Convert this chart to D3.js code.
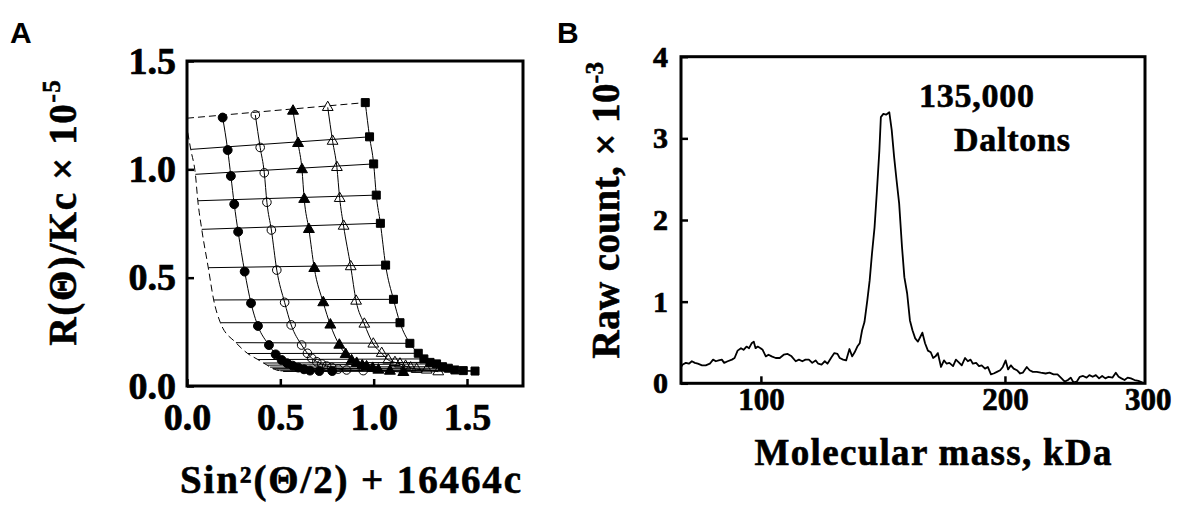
<!DOCTYPE html>
<html>
<head>
<meta charset="utf-8">
<script src="https://cdnjs.cloudflare.com/ajax/libs/d3/7.8.5/d3.min.js"></script>
<style>
  body { margin: 0; background: #fff; }
  svg { display: block; }
</style>
</head>
<body>
<svg id="fig" width="1183" height="517"></svg>
<script>
// ---------- panel A (Zimm plot) ----------
const zimmTicksX = [0, 0.5, 1.0, 1.5];
const zimmTicksY = [0, 0.5, 1.0, 1.5];

// left end of each angle line (c -> 0); row 0 is the theta -> 0 line
const zeroConcX = [0.000, 0.020, 0.045, 0.058, 0.079, 0.114, 0.143, 0.179, 0.262, 0.325, 0.380, 0.410, 0.430, 0.445, 0.460, 0.480, 0.500, 0.515];
const zeroConcY = [1.236, 1.092, 0.977, 0.855, 0.723, 0.546, 0.397, 0.292, 0.200, 0.150, 0.122, 0.106, 0.096, 0.087, 0.080, 0.074, 0.070, 0.067];
const zeroConcTop = [0.004, 1.17];

const filledCircleX = [0.191, 0.218, 0.235, 0.253, 0.274, 0.309, 0.343, 0.380, 0.439, 0.475, 0.507, 0.537, 0.566, 0.596, 0.627, 0.659, 0.709, 0.778];
const filledCircleY = [1.239, 1.089, 0.969, 0.839, 0.712, 0.528, 0.382, 0.277, 0.189, 0.146, 0.120, 0.105, 0.094, 0.085, 0.077, 0.071, 0.069, 0.069];
const openCircleX = [0.366, 0.392, 0.414, 0.428, 0.452, 0.481, 0.523, 0.558, 0.614, 0.645, 0.668, 0.695, 0.721, 0.748, 0.775, 0.810, 0.855, 0.944];
const openCircleY = [1.251, 1.101, 0.984, 0.848, 0.720, 0.535, 0.386, 0.282, 0.189, 0.151, 0.128, 0.112, 0.102, 0.092, 0.086, 0.078, 0.074, 0.071];
const filledTriX = [0.568, 0.595, 0.616, 0.628, 0.653, 0.682, 0.730, 0.768, 0.816, 0.850, 0.882, 0.909, 0.939, 0.962, 0.995, 1.025, 1.087, 1.159];
const filledTriY = [1.269, 1.120, 0.999, 0.862, 0.723, 0.543, 0.385, 0.282, 0.189, 0.146, 0.117, 0.105, 0.094, 0.089, 0.082, 0.074, 0.069, 0.063];
const openTriX = [0.754, 0.780, 0.803, 0.818, 0.839, 0.877, 0.906, 0.950, 0.998, 1.043, 1.078, 1.114, 1.141, 1.171, 1.198, 1.230, 1.284, 1.346];
const openTriY = [1.286, 1.130, 1.009, 0.866, 0.738, 0.551, 0.392, 0.286, 0.194, 0.151, 0.120, 0.109, 0.102, 0.092, 0.084, 0.077, 0.074, 0.066];
const squareX = [0.955, 0.978, 1.000, 1.014, 1.036, 1.064, 1.106, 1.141, 1.194, 1.239, 1.269, 1.302, 1.337, 1.369, 1.400, 1.435, 1.480, 1.543];
const squareY = [1.308, 1.150, 1.025, 0.881, 0.751, 0.558, 0.400, 0.292, 0.197, 0.151, 0.125, 0.109, 0.102, 0.089, 0.082, 0.074, 0.071, 0.069];

// ---------- panel B (mass spectrum) ----------
const massTicks = [100, 200, 300];
const countTicks = [0, 1, 2, 3, 4];

const massKDa = [
  79.7, 80.1, 80.8, 81.5, 82.2, 82.9, 83.6, 84.6, 85.5, 86.5,
  87.3, 88.0, 88.7, 89.5, 90.1, 91.0, 92.1, 92.8, 93.6, 94.5,
  95.2, 96.0, 96.7, 97.4, 98.0, 98.5, 99.1, 99.9, 100.5, 101.4,
  102.2, 103.1, 104.3, 105.5, 106.7, 107.9, 109.1, 110.4, 111.4, 112.5,
  113.5, 114.6, 115.7, 116.8, 117.7, 118.8, 119.9, 120.8, 122.2, 123.2,
  124.3, 125.1, 126.3, 127.4, 128.6, 129.6, 130.5, 131.5, 132.4, 133.3,
  134.2, 135.3, 136.2, 137.1, 138.1, 139.0, 140.0, 140.6, 141.6, 142.7,
  144.0, 145.0, 146.0, 147.0, 148.1, 149.3, 150.3, 151.5, 152.7, 153.8,
  155.0, 156.2, 157.3, 158.2, 159.4, 160.7, 162.0, 163.1, 164.2, 165.3,
  166.8, 168.2, 169.5, 170.8, 172.6, 174.0, 175.3, 176.9, 178.6, 180.0,
  181.4, 182.6, 184.3, 185.8, 187.2, 189.0, 190.5, 192.2, 193.7, 195.5,
  197.3, 198.8, 200.4, 201.8, 203.4, 205.0, 206.9, 208.8, 210.4, 212.8,
  214.5, 216.5, 218.9, 221.4, 224.5, 227.0, 229.6, 232.2, 234.9, 237.0,
  239.2, 241.1, 243.0, 245.2, 247.4, 249.7, 252.2, 254.2, 256.6, 258.9,
  261.3, 263.6, 266.0, 268.4, 271.5, 274.0, 276.2, 278.4, 280.9, 283.4,
  286.0, 289.0, 292.2, 295.6, 297.5
];
const rawCount = [
  0.20, 0.23, 0.25, 0.24, 0.27, 0.25, 0.24, 0.22, 0.22, 0.24,
  0.29, 0.27, 0.28, 0.29, 0.25, 0.27, 0.29, 0.31, 0.40, 0.43,
  0.41, 0.45, 0.43, 0.49, 0.51, 0.43, 0.45, 0.43, 0.41, 0.33,
  0.35, 0.33, 0.31, 0.31, 0.35, 0.36, 0.33, 0.27, 0.29, 0.27,
  0.29, 0.29, 0.25, 0.28, 0.24, 0.23, 0.27, 0.24, 0.32, 0.37,
  0.36, 0.31, 0.29, 0.28, 0.42, 0.33, 0.38, 0.45, 0.49, 0.65,
  0.75, 1.02, 1.26, 1.59, 1.91, 2.34, 2.85, 3.26, 3.30, 3.29,
  3.32, 3.10, 2.77, 2.49, 2.20, 1.67, 1.30, 1.10, 0.77, 0.65,
  0.55, 0.51, 0.57, 0.62, 0.49, 0.40, 0.38, 0.31, 0.33, 0.37,
  0.20, 0.28, 0.24, 0.25, 0.21, 0.29, 0.26, 0.22, 0.31, 0.27,
  0.29, 0.24, 0.25, 0.21, 0.22, 0.18, 0.20, 0.11, 0.12, 0.14,
  0.16, 0.20, 0.28, 0.17, 0.22, 0.18, 0.16, 0.12, 0.13, 0.20,
  0.16, 0.14, 0.14, 0.13, 0.12, 0.13, 0.11, 0.11, 0.06, 0.02,
  0.04, 0.07, 0.01, 0.02, 0.08, 0.09, 0.07, 0.10, 0.08, 0.10,
  0.06, 0.09, 0.06, 0.08, 0.07, 0.13, 0.08, 0.06, 0.04, 0.07,
  0.06, 0.04, 0.03, 0.01, 0.00
];

const SERIF = "'Liberation Serif', 'Times New Roman', serif";
const SANS = "'Liberation Sans', Arial, sans-serif";

const svg = d3.select("#fig");
svg.append("rect").attr("width", 1183).attr("height", 517).attr("fill", "#fff");

// heavy bold serif like the scanned figure
function heavy(sel, w) {
  return sel.attr("font-family", SERIF).attr("font-weight", "bold")
    .attr("fill", "#000").attr("stroke", "#000").attr("stroke-width", w);
}

function styleAxis(g, size) {
  g.attr("font-family", SERIF).attr("font-size", size).attr("font-weight", "bold");
  g.select(".domain").remove();
  g.selectAll(".tick line").attr("stroke", "#000").attr("stroke-width", 2.5);
  heavy(g.selectAll(".tick text"), 0.7);
}

// ======== A ========
const ax = d3.scaleLinear().domain([0, 1.8]).range([187, 523]);
const ay = d3.scaleLinear().domain([0, 1.5]).range([386, 61]);
const gA = svg.append("g");

// angle lines
for (let r = 0; r < zeroConcX.length; r++) {
  gA.append("line")
    .attr("x1", ax(zeroConcX[r])).attr("y1", ay(zeroConcY[r]))
    .attr("x2", ax(squareX[r])).attr("y2", ay(squareY[r]))
    .attr("stroke", "#000").attr("stroke-width", 1)
    .attr("stroke-dasharray", r === 0 ? "7,4" : null);
}

// c = 0 extrapolation
const dashPts = [zeroConcTop].concat(zeroConcX.slice(1).map((x, i) => [x, zeroConcY[i + 1]]));
gA.append("path")
  .attr("d", d3.line().x(d => ax(d[0])).y(d => ay(d[1])).curve(d3.curveMonotoneX)(dashPts))
  .attr("fill", "none").attr("stroke", "#000").attr("stroke-width", 1)
  .attr("stroke-dasharray", "7,4");

const series = [
  {xs: filledCircleX, ys: filledCircleY, type: d3.symbolCircle, size: 62, filled: true},
  {xs: openCircleX, ys: openCircleY, type: d3.symbolCircle, size: 58, filled: false},
  {xs: filledTriX, ys: filledTriY, type: d3.symbolTriangle, size: 52, filled: true},
  {xs: openTriX, ys: openTriY, type: d3.symbolTriangle, size: 50, filled: false},
  {xs: squareX, ys: squareY, type: d3.symbolSquare, size: 64, filled: true}
];

const curveLine = d3.line().x(d => ax(d[0])).y(d => ay(d[1])).curve(d3.curveMonotoneX);
series.forEach(s => {
  const pts = s.xs.map((x, i) => [x, s.ys[i]]);
  gA.append("path").attr("d", curveLine(pts))
    .attr("fill", "none").attr("stroke", "#000").attr("stroke-width", 1);
  gA.selectAll(null).data(pts).enter().append("path")
    .attr("transform", d => `translate(${ax(d[0])},${ay(d[1])})`)
    .attr("d", d3.symbol().type(s.type).size(s.size))
    .attr("fill", s.filled ? "#000" : "none")
    .attr("stroke", "#000").attr("stroke-width", 1);
});

const axA = gA.append("g").attr("transform", "translate(0,386)")
  .call(d3.axisBottom(ax).tickValues(zimmTicksX).tickFormat(d3.format(".1f")).tickSize(-7).tickPadding(17));
styleAxis(axA, 38);
const ayA = gA.append("g").attr("transform", "translate(187,0)")
  .call(d3.axisLeft(ay).tickValues(zimmTicksY).tickFormat(d3.format(".1f")).tickSize(-7).tickPadding(11));
styleAxis(ayA, 38);

gA.append("rect").attr("x", 187).attr("y", 61).attr("width", 336).attr("height", 325)
  .attr("fill", "none").attr("stroke", "#000").attr("stroke-width", 3);

gA.append("text").attr("x", 10).attr("y", 43).attr("font-family", SANS)
  .attr("font-weight", "bold").attr("font-size", 30).text("A");

heavy(gA.append("text"), 0.6).attr("x", 350.5).attr("y", 493).attr("text-anchor", "middle")
  .attr("font-size", 39).attr("textLength", 341).attr("lengthAdjust", "spacing")
  .text("Sin²(Θ/2) + 16464c");

const yTitleA = heavy(gA.append("text"), 0.6).attr("transform", "translate(76,212) rotate(-90)")
  .attr("text-anchor", "middle").attr("font-size", 39).attr("letter-spacing", 1.6);
yTitleA.append("tspan").text("R(Θ)/Kc × 10");
yTitleA.append("tspan").attr("font-size", 25).attr("dy", -16).text("-5");

// ======== B ========
const bx = d3.scaleLog().domain([79.7, 297.7]).range([681, 1145]);
const by = d3.scaleLinear().domain([0, 4]).range([383.3, 56.7]);
const gB = svg.append("g");

gB.append("path")
  .datum(massKDa.map((m, i) => [m, rawCount[i]]))
  .attr("d", d3.line().x(d => bx(d[0])).y(d => by(d[1])))
  .attr("fill", "none").attr("stroke", "#000").attr("stroke-width", 1.8)
  .attr("stroke-linejoin", "round");

const axB = gB.append("g").attr("transform", "translate(0,383.3)")
  .call(d3.axisBottom(bx).tickValues(massTicks).tickFormat(d3.format("d")).tickSize(-7).tickPadding(5));
styleAxis(axB, 31);
axB.selectAll(".tick").filter(d => d > 297.7).select("line").remove();
const ayB = gB.append("g").attr("transform", "translate(681,0)")
  .call(d3.axisLeft(by).tickValues(countTicks).tickFormat(d3.format("d")).tickSize(-7).tickPadding(13));
styleAxis(ayB, 30);

gB.append("rect").attr("x", 681).attr("y", 56.7).attr("width", 464).attr("height", 326.6)
  .attr("fill", "none").attr("stroke", "#000").attr("stroke-width", 3);

gB.append("text").attr("x", 557).attr("y", 43).attr("font-family", SANS)
  .attr("font-weight", "bold").attr("font-size", 30).text("B");

heavy(gB.append("text"), 0.6).attr("x", 933).attr("y", 465).attr("text-anchor", "middle")
  .attr("font-size", 37).attr("textLength", 357).attr("lengthAdjust", "spacing")
  .text("Molecular mass, kDa");

const yTitleB = heavy(gB.append("text"), 0.6).attr("transform", "translate(619,210) rotate(-90)")
  .attr("text-anchor", "middle").attr("font-size", 39).attr("letter-spacing", 0.4);
yTitleB.append("tspan").text("Raw count, × 10");
yTitleB.append("tspan").attr("font-size", 25).attr("dy", -16).text("-3");

heavy(gB.append("text"), 0.6).attr("x", 919).attr("y", 107)
  .attr("font-size", 34).attr("textLength", 115).attr("lengthAdjust", "spacing").text("135,000");
heavy(gB.append("text"), 0.6).attr("x", 954).attr("y", 151)
  .attr("font-size", 34).attr("textLength", 116).attr("lengthAdjust", "spacing").text("Daltons");
</script>
</body>
</html>
